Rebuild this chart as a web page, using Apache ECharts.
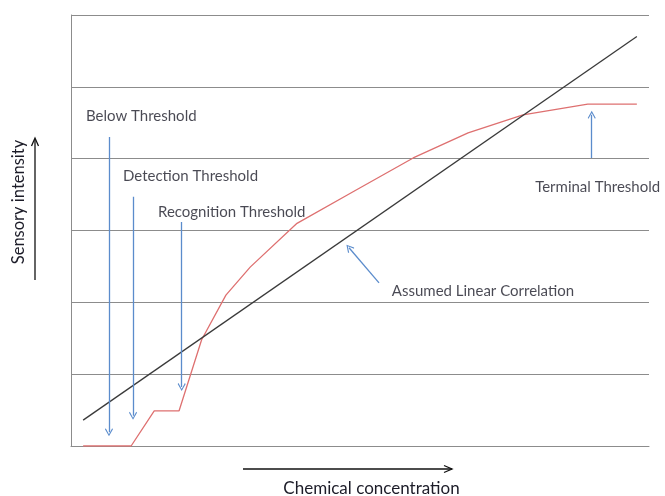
<!DOCTYPE html>
<html>
<head>
<meta charset="utf-8">
<script src="https://cdn.jsdelivr.net/npm/echarts@6/dist/echarts.min.js"></script>
<style>
html,body{margin:0;padding:0;background:#fff;}
#c{width:665px;height:496px;}
</style>
</head>
<body>
<div id="c"></div>
<script>
// Response curve (actual sensory response)
var responseX = [2.1, 10.4, 14.4, 18.7, 22.6, 26.8, 31.0, 39.1, 48.8, 59.2, 68.7, 78.2, 89.4, 97.9];
var responseY = [0, 0, 0.49, 0.49, 1.48, 2.10, 2.49, 3.10, 3.54, 4.01, 4.36, 4.61, 4.76, 4.76];
// Assumed linear correlation
var linearX = [2.1, 97.9];
var linearY = [0.36, 5.70];
// Annotation texts and their anchor points
var noteTexts = ['Below Threshold', 'Detection Threshold', 'Recognition Threshold', 'Terminal Threshold', 'Assumed Linear Correlation'];
var noteX = [2.6, 9.0, 15.05, 80.3, 55.5];
var noteY = [4.59, 3.76, 3.26, 3.60, 2.16];
// Annotation arrows [x1, y1, x2, y2]
var arrowFromX = [6.57, 10.73, 19.15, 90.09, 53.29];
var arrowFromY = [4.30, 3.47, 3.12, 4.01, 2.27];
var arrowToX = [6.57, 10.73, 19.15, 90.09, 48.10];
var arrowToY = [0.19, 0.42, 0.82, 4.61, 2.76];
var yTicks = [0, 1, 2, 3, 4, 5, 6];
var xTitle = 'Chemical concentration';
var yTitle = 'Sensory intensity';

var FONT = 'Lato';
var chevron = 'path://M0,0 L5,8 L4,9 L0,2.4 L-4,9 L-5,8 Z';

var chart = echarts.init(document.getElementById('c'));
var responseData = responseX.map(function (x, i) { return [x, responseY[i]]; });
var linearData = linearX.map(function (x, i) { return [x, linearY[i]]; });
var noteData = noteTexts.map(function (t, i) { return { value: [noteX[i], noteY[i]], name: t }; });
var arrowData = arrowFromX.map(function (x, i) {
  return { coords: [[x, arrowFromY[i]], [arrowToX[i], arrowToY[i]]] };
});

chart.setOption({
  animation: false,
  grid: { left: 71, right: 16, top: 15, bottom: 50, containLabel: false },
  xAxis: {
    type: 'value', min: 0, max: 100,
    axisLine: { show: true, lineStyle: { color: '#8c8c8c', width: 1 } },
    axisTick: { show: false }, axisLabel: { show: false }, splitLine: { show: false }
  },
  yAxis: {
    type: 'value', min: yTicks[0], max: yTicks[yTicks.length - 1], interval: 1,
    axisLine: { show: true, lineStyle: { color: '#8c8c8c', width: 1 } },
    axisTick: { show: false }, axisLabel: { show: false },
    splitLine: { show: true, lineStyle: { color: '#8c8c8c', width: 1 } }
  },
  series: [
    {
      type: 'line', data: responseData, symbol: 'none', smooth: false,
      lineStyle: { color: '#de7070', width: 1.3 }, z: 3
    },
    {
      type: 'line', data: linearData, symbol: 'none',
      lineStyle: { color: '#3a3a3a', width: 1.3 }, z: 4
    },
    {
      type: 'lines', coordinateSystem: 'cartesian2d', data: arrowData,
      symbol: ['none', chevron], symbolSize: [9, 8],
      lineStyle: { color: '#5b8ccc', width: 1.3, opacity: 1 },
      itemStyle: { color: '#5b8ccc' }, z: 5
    },
    {
      type: 'scatter', data: noteData, symbolSize: 0, z: 6,
      label: {
        show: true, position: 'right', distance: 0,
        formatter: function (p) { return p.name; },
        fontFamily: FONT, fontSize: 15, color: '#1c1c28', align: 'left', verticalAlign: 'middle'
      }
    }
  ],
  graphic: [
    { type: 'text', x: 19, y: 202, rotation: Math.PI / 2, style: { text: yTitle, font: '16.5px Lato', fill: '#1c1c28', align: 'center', verticalAlign: 'middle' } },
    { type: 'line', shape: { x1: 35, y1: 280, x2: 35, y2: 139 }, style: { stroke: '#111', lineWidth: 1.3 } },
    { type: 'polyline', shape: { points: [[31.5, 146], [35, 138], [38.5, 146]] }, style: { stroke: '#111', lineWidth: 1.3, fill: null } },
    { type: 'text', x: 371.5, y: 489, style: { text: xTitle, font: '17px Lato', fill: '#1c1c28', align: 'center', verticalAlign: 'middle' } },
    { type: 'line', shape: { x1: 243, y1: 469, x2: 452, y2: 469 }, style: { stroke: '#111', lineWidth: 1.3 } },
    { type: 'polyline', shape: { points: [[444, 465.5], [452, 469], [444, 472.5]] }, style: { stroke: '#111', lineWidth: 1.3, fill: null } }
  ]
});
</script>
</body>
</html>
